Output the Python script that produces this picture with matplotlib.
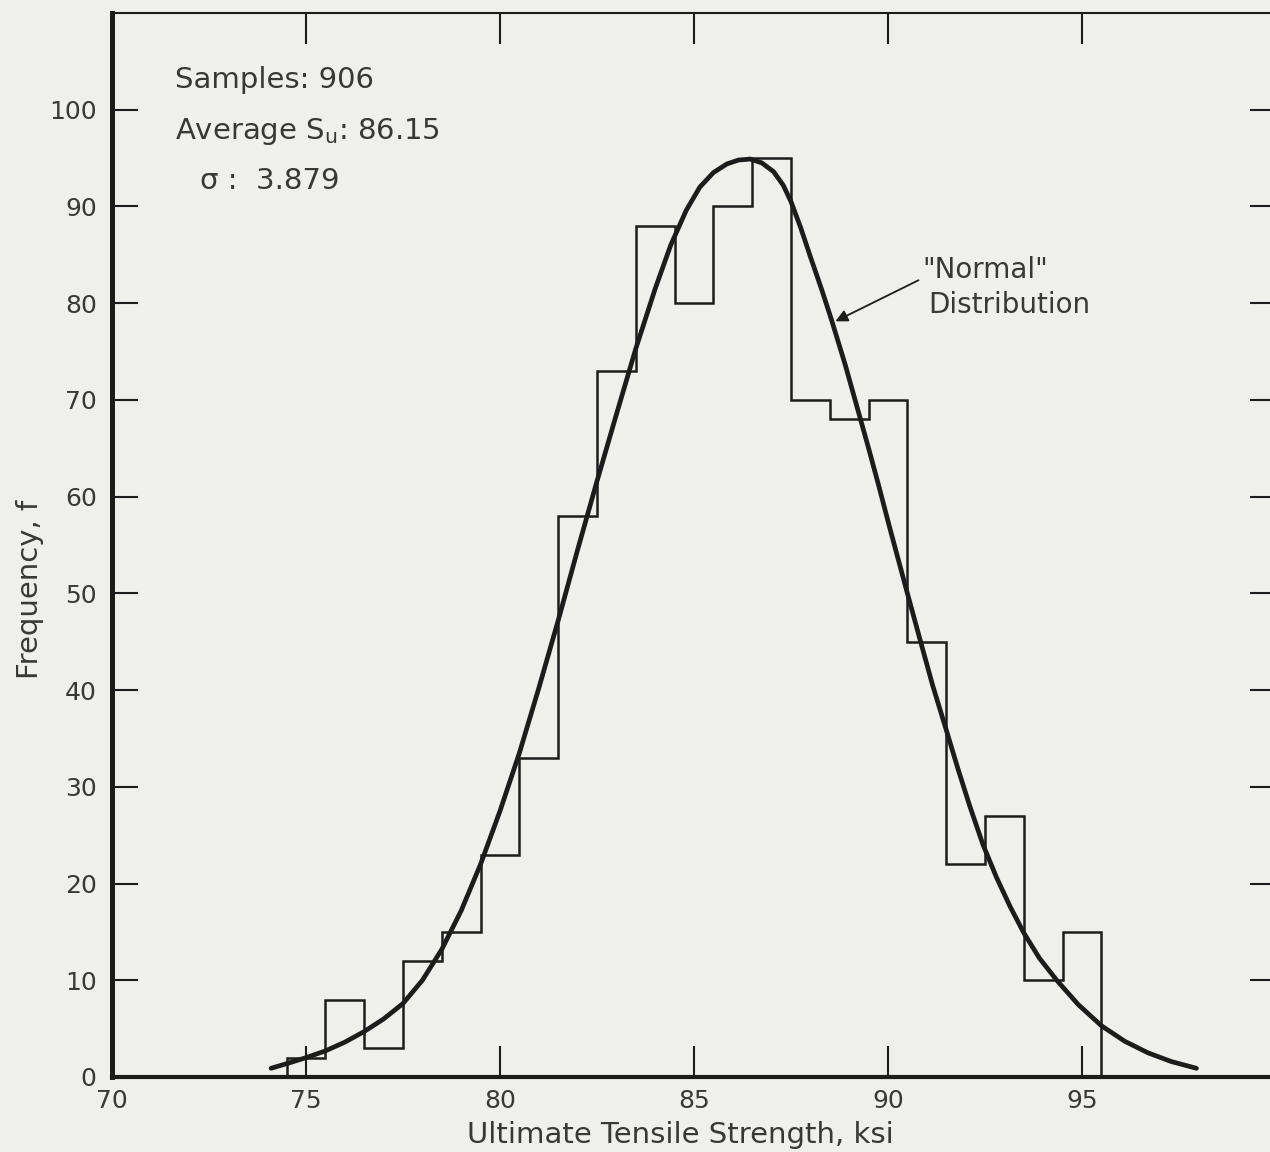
import numpy as np
import matplotlib
matplotlib.use("Agg")
import matplotlib.pyplot as plt

# histogram: 1 ksi bins, edges on half values
bin_edges = np.arange(74.5, 96.0, 1.0)
freq = [2, 8, 3, 12, 15, 23, 33, 58, 73, 88, 80, 90, 95, 70, 68, 70, 45, 22, 27, 10, 15]

# "Normal" curve
curve_x = [74.1, 74.6, 75.0, 75.5, 76.0, 76.5, 77.0, 77.5, 78.0, 78.5, 79.0, 79.5,
           80.0, 80.5, 81.0, 81.5, 82.0, 82.5, 83.0, 83.5, 84.0, 84.4, 84.8, 85.15,
           85.5, 85.85, 86.15, 86.45, 86.75, 87.05, 87.3, 87.5, 87.75, 88.0, 88.3,
           88.55, 88.9, 89.2, 89.5, 89.75, 90.05, 90.5, 90.82, 91.15, 91.5, 91.8,
           92.1, 92.45, 92.8, 93.15, 93.5, 93.9, 94.35, 94.9, 95.5, 96.1, 96.7,
           97.3, 97.95]
curve_y = [0.9, 1.5, 2.0, 2.7, 3.6, 4.7, 6.0, 7.6, 10.0, 13.2, 17.2, 22.0,
           27.5, 33.5, 40.2, 47.2, 54.5, 61.6, 68.5, 75.3, 81.5, 86.0, 89.6, 92.0,
           93.5, 94.4, 94.8, 94.9, 94.5, 93.6, 92.2, 90.5, 87.8, 84.8, 81.3,
           78.2, 73.6, 69.3, 65.0, 61.3, 56.7, 50.0, 45.3, 40.5, 35.9, 31.9,
           28.1, 24.0, 20.6, 17.6, 14.9, 12.3, 10.0, 7.5, 5.3, 3.7, 2.5,
           1.6, 0.9]

x_ticks = [70, 75, 80, 85, 90, 95]
y_ticks = [0, 10, 20, 30, 40, 50, 60, 70, 80, 90, 100]

paper = '#efefec'
ink = '#1c1c1c'
txt = '#383838'

fig = plt.figure(figsize=(12.7, 11.52), dpi=100, facecolor=paper)
ax = fig.add_axes([112 / 1270, 75 / 1152, 1164 / 1270, 1064 / 1152])
ax.set_facecolor(paper)

ax.stairs(freq, bin_edges, baseline=0, color=ink, lw=1.8)
ax.plot(curve_x, curve_y, color=ink, lw=3.4, solid_capstyle='round', solid_joinstyle='round')

ax.set_xlim(70, 100)
ax.set_ylim(0, 110)
ax.set_xticks(x_ticks)
ax.set_yticks(y_ticks)

ax.tick_params(axis='both', direction='in', colors=ink, labelcolor=txt, labelsize=18, width=1.5)
ax.tick_params(axis='x', length=22, pad=9, top=True)
ax.tick_params(axis='y', length=19, pad=11, right=True)

# no tick marks at the corner (70 / 0)
for t in ax.xaxis.get_major_ticks()[:1]:
    t.tick1line.set_visible(False)
    t.tick2line.set_visible(False)
for t in ax.yaxis.get_major_ticks()[:1]:
    t.tick1line.set_visible(False)
    t.tick2line.set_visible(False)

ax.spines['left'].set_linewidth(3.6)
ax.spines['bottom'].set_linewidth(3.0)
ax.spines['top'].set_linewidth(1.5)
ax.spines['right'].set_linewidth(1.5)
for s in ax.spines.values():
    s.set_color(ink)

ax.set_xlabel('Ultimate Tensile Strength, ksi', fontsize=21, color=txt)
ax.set_ylabel('Frequency, f', fontsize=21, color=txt)
ax.xaxis.set_label_coords(0.488, -0.0545)
ax.xaxis.label.set_va('center')
ax.yaxis.set_label_coords(-0.0704, 0.458)
ax.yaxis.label.set_va('center')

ax.text(71.62, 103.1, 'Samples: 906', fontsize=21, color=txt, va='center', ha='left')
ax.text(71.62, 97.7, r'Average S$_\mathregular{u}$: 86.15', fontsize=21, color=txt, va='center', ha='left')
ax.text(72.27, 92.6, 'σ :  3.879', fontsize=21, color=txt, va='center', ha='left')

ax.annotate('', xy=(88.58, 78.0), xytext=(90.85, 82.5),
            arrowprops=dict(arrowstyle='-|>', color=ink, lw=1.3, mutation_scale=18))
ax.text(90.88, 83.4, '"Normal"', fontsize=20, color=txt, va='center', ha='left')
ax.text(91.05, 79.8, 'Distribution', fontsize=20, color=txt, va='center', ha='left')

fig.savefig('out.png', dpi=100, facecolor=paper)
